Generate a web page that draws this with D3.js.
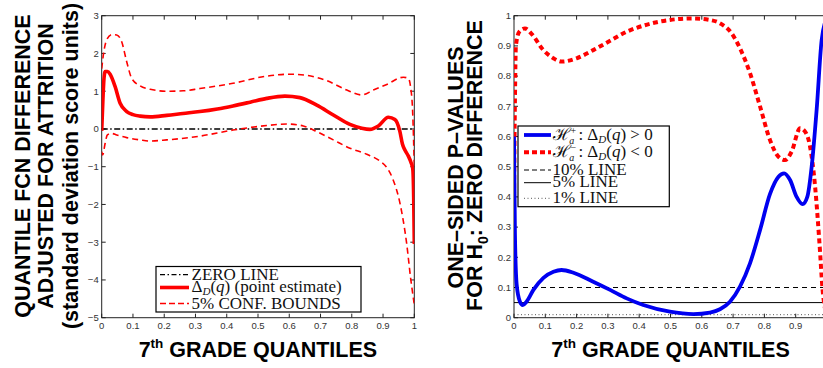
<!DOCTYPE html>
<html>
<head>
<meta charset="utf-8">
<title>Quantile difference and p-values</title>
<script src="https://cdn.jsdelivr.net/npm/d3@7"></script>
<style>
    body { margin: 0; background: #fff; }
    .tick-label { font-family: "Liberation Sans", Arial, sans-serif; font-size: 9.5px; fill: #333; }
    .axis-title { font-family: "Liberation Sans", Arial, sans-serif; font-weight: bold; font-size: 21.5px; fill: #000; }
    .legend-text { font-family: "Liberation Serif", "DejaVu Serif", serif; font-size: 17px; fill: #111; }
</style>
</head>
<body>
<div id="viz"></div>
<script>
// left panel: quantile function difference
var qPoint = [0, 0.004, 0.007, 0.011, 0.018, 0.027, 0.043, 0.059, 0.08, 0.1, 0.123, 0.155, 0.208, 0.26, 0.314, 0.37, 0.42, 0.475, 0.528, 0.586, 0.634, 0.688, 0.741, 0.794, 0.832, 0.858, 0.885, 0.917, 0.938, 0.954, 0.962, 0.97, 0.981, 0.99, 0.995, 0.998, 1.0];
var vPoint = [-0.05, 0.8, 1.3, 1.52, 1.52, 1.45, 1.12, 0.68, 0.46, 0.38, 0.34, 0.32, 0.36, 0.41, 0.46, 0.53, 0.61, 0.71, 0.81, 0.87, 0.83, 0.63, 0.37, 0.12, 0.02, -0.01, 0.08, 0.31, 0.25, -0.07, -0.4, -0.56, -0.72, -0.9, -1.05, -1.8, -3.05];

var qUpper = [0, 0.006, 0.016, 0.032, 0.048, 0.064, 0.08, 0.096, 0.123, 0.155, 0.208, 0.261, 0.314, 0.42, 0.528, 0.602, 0.656, 0.72, 0.784, 0.832, 0.869, 0.912, 0.965, 0.981, 0.988, 0.995, 1.0];
var vUpper = [1.6, 2.0, 2.36, 2.5, 2.49, 2.31, 1.78, 1.34, 1.14, 1.05, 1.0, 1.01, 1.07, 1.21, 1.4, 1.45, 1.42, 1.28, 1.03, 0.9, 1.03, 1.18, 1.37, 1.34, 1.12, 0.4, -1.0];

var qLower = [0, 0.003, 0.011, 0.018, 0.032, 0.048, 0.08, 0.123, 0.155, 0.208, 0.314, 0.42, 0.528, 0.592, 0.645, 0.688, 0.741, 0.794, 0.848, 0.89, 0.91, 0.93, 0.955, 0.975, 0.989, 1.0];
var vLower = [-0.6, -0.69, -0.38, -0.16, -0.12, -0.16, -0.23, -0.29, -0.32, -0.29, -0.19, -0.03, 0.09, 0.13, 0.08, -0.07, -0.29, -0.51, -0.67, -0.85, -1.0, -1.3, -2.0, -3.0, -4.0, -4.65];

// right panel: one-sided p-values
var qPlus = [0, 0.003, 0.0085, 0.019, 0.028, 0.04, 0.062, 0.094, 0.126, 0.152, 0.19, 0.253, 0.307, 0.36, 0.413, 0.498, 0.573, 0.626, 0.658, 0.69, 0.722, 0.754, 0.786, 0.818, 0.845, 0.863, 0.882, 0.903, 0.922, 0.937, 0.951, 0.967, 0.983, 1.0];
var pPlus = [0.6, 0.28, 0.11, 0.053, 0.042, 0.053, 0.092, 0.132, 0.152, 0.158, 0.149, 0.119, 0.092, 0.064, 0.042, 0.02, 0.012, 0.017, 0.028, 0.053, 0.103, 0.18, 0.29, 0.41, 0.467, 0.478, 0.456, 0.4, 0.376, 0.4, 0.5, 0.69, 0.92, 0.995];

var qMinus = [0, 0.003, 0.006, 0.017, 0.035, 0.056, 0.094, 0.126, 0.152, 0.2, 0.253, 0.307, 0.36, 0.413, 0.498, 0.573, 0.626, 0.663, 0.695, 0.722, 0.754, 0.786, 0.818, 0.845, 0.866, 0.887, 0.914, 0.93, 0.946, 0.962, 0.976, 0.986, 1.0];
var pMinus = [0.4, 0.72, 0.9, 0.947, 0.958, 0.94, 0.886, 0.859, 0.848, 0.859, 0.886, 0.917, 0.947, 0.967, 0.986, 0.991, 0.986, 0.972, 0.942, 0.892, 0.81, 0.7, 0.588, 0.533, 0.522, 0.55, 0.627, 0.616, 0.566, 0.434, 0.246, 0.092, 0.005];

var refLevels = [0.1, 0.05, 0.01];

var xTicks = [0, 0.1, 0.2, 0.3, 0.4, 0.5, 0.6, 0.7, 0.8, 0.9, 1];
var yTicksLeft = [-5, -4, -3, -2, -1, 0, 1, 2, 3];
var yTicksRight = [0, 0.1, 0.2, 0.3, 0.4, 0.5, 0.6, 0.7, 0.8, 0.9, 1];

var width = 823, height = 368;
var plotTop = 15.7, plotBottom = 317.7;

var svg = d3.select("#viz").append("svg")
    .attr("width", width)
    .attr("height", height);

function zip(xs, ys) {
    return xs.map(function(x, i) { return [x, ys[i]]; });
}

// MATLAB-like box axes with inward ticks on all four sides
function drawFrame(id, x, y, yTicks, yFmt) {
    var g = svg.append("g");
    var x0 = x.range()[0], x1 = x.range()[1];
    var y0 = y.range()[0], y1 = y.range()[1];

    svg.append("clipPath").attr("id", id)
        .append("rect")
        .attr("x", x0).attr("y", y1)
        .attr("width", x1 - x0).attr("height", y0 - y1);

    g.append("rect")
        .attr("x", x0).attr("y", y1)
        .attr("width", x1 - x0).attr("height", y0 - y1)
        .attr("fill", "none").attr("stroke", "#222").attr("stroke-width", 1);

    xTicks.forEach(function(t) {
        var px = x(t);
        g.append("line").attr("x1", px).attr("x2", px).attr("y1", y0).attr("y2", y0 - 4)
            .attr("stroke", "#222");
        g.append("line").attr("x1", px).attr("x2", px).attr("y1", y1).attr("y2", y1 + 4)
            .attr("stroke", "#222");
        // the right panel runs past the picture edge, so its last label is not seen
        if (px + 3 > width) return;
        g.append("text").attr("class", "tick-label")
            .attr("x", px).attr("y", y0 + 11.5)
            .attr("text-anchor", "middle")
            .text(String(t));
    });
    yTicks.forEach(function(t) {
        var py = y(t);
        g.append("line").attr("x1", x0).attr("x2", x0 + 4).attr("y1", py).attr("y2", py)
            .attr("stroke", "#222");
        g.append("line").attr("x1", x1).attr("x2", x1 - 4).attr("y1", py).attr("y2", py)
            .attr("stroke", "#222");
        g.append("text").attr("class", "tick-label")
            .attr("x", x0 - 3).attr("y", py + 3.3)
            .attr("text-anchor", "end")
            .text(yFmt(t));
    });
    return g;
}

function drawLine(id, x, y, pts, color, w, dash) {
    var line = d3.line()
        .x(function(d) { return x(d[0]); })
        .y(function(d) { return y(d[1]); })
        .curve(d3.curveMonotoneX);
    var p = svg.append("path")
        .datum(pts)
        .attr("clip-path", "url(#" + id + ")")
        .attr("d", line)
        .attr("fill", "none")
        .attr("stroke", color)
        .attr("stroke-width", w)
        .attr("stroke-linejoin", "round");
    if (dash) p.attr("stroke-dasharray", dash);
    return p;
}

/**********************
LEFT PANEL
**********************/
var xL = d3.scaleLinear().domain([0, 1]).range([101.7, 414.3]);
var yL = d3.scaleLinear().domain([-5, 3]).range([plotBottom, plotTop]);

drawFrame("clipL", xL, yL, yTicksLeft, function(t) { return t < 0 ? "\u2212" + Math.abs(t) : String(t); });

svg.append("line")
    .attr("x1", xL(0)).attr("x2", xL(1)).attr("y1", yL(0)).attr("y2", yL(0))
    .attr("stroke", "#000").attr("stroke-width", 1.4)
    .attr("stroke-dasharray", "6,2.5,1.5,2.5");
drawLine("clipL", xL, yL, zip(qUpper, vUpper), "#f00", 1.6, "6,4");
drawLine("clipL", xL, yL, zip(qLower, vLower), "#f00", 1.6, "6,4");
drawLine("clipL", xL, yL, zip(qPoint, vPoint), "#f00", 3.6);

// left legend
var legL = svg.append("g");
legL.append("rect").attr("x", 156).attr("y", 266.5).attr("width", 205).attr("height", 45.5)
    .attr("fill", "#fff").attr("stroke", "#000").attr("stroke-width", 1.2);
var legLItems = [
    { y: 274.7, color: "#000", w: 1.3, dash: "5,2.5,1.5,2.5" },
    { y: 287.5, color: "#f00", w: 3.6, dash: null },
    { y: 303.5, color: "#f00", w: 1.6, dash: "6,3" }
];
legLItems.forEach(function(d) {
    var l = legL.append("line").attr("x1", 160).attr("x2", 189).attr("y1", d.y).attr("y2", d.y)
        .attr("stroke", d.color).attr("stroke-width", d.w);
    if (d.dash) l.attr("stroke-dasharray", d.dash);
});
legL.append("text").attr("class", "legend-text").attr("x", 191.5).attr("y", 279.8).text("ZERO LINE");
var tD = legL.append("text").attr("class", "legend-text").attr("x", 191.5).attr("y", 292.2);
tD.append("tspan").text("\u0394");
tD.append("tspan").attr("font-style", "italic").attr("font-size", 11).attr("dy", 3).text("D");
tD.append("tspan").attr("dy", -3).text("(");
tD.append("tspan").attr("font-style", "italic").text("q");
tD.append("tspan").text(") (point estimate)");
legL.append("text").attr("class", "legend-text").attr("x", 191.5).attr("y", 308.5).text("5% CONF. BOUNDS");

// left titles
var xt = svg.append("text").attr("class", "axis-title")
    .attr("x", 257.9).attr("y", 356.5).attr("text-anchor", "middle");
xt.append("tspan").text("7");
xt.append("tspan").attr("font-size", 13.5).attr("dy", -9).text("th");
xt.append("tspan").attr("dy", 9).text(" GRADE QUANTILES");

var yTitlesL = [
    { x: 29.5, t: "QUANTILE FCN DIFFERENCE" },
    { x: 53, t: "ADJUSTED FOR ATTRITION" },
    { x: 78, t: "(standard deviation score units)" }
];
yTitlesL.forEach(function(d) {
    svg.append("text").attr("class", "axis-title")
        .attr("transform", "translate(" + d.x + ",166) rotate(-90)")
        .attr("text-anchor", "middle")
        .text(d.t);
});

/**********************
RIGHT PANEL
**********************/
var xR = d3.scaleLinear().domain([0, 1]).range([514, 827]);
var yR = d3.scaleLinear().domain([0, 1]).range([plotBottom, plotTop]);

drawFrame("clipR", xR, yR, yTicksRight, function(t) { return String(t); });

var refStyles = [
    { color: "#000", w: 1, dash: "5,4" },
    { color: "#000", w: 1, dash: null },
    { color: "#555", w: 1, dash: "1,2.5" }
];
refLevels.forEach(function(lv, i) {
    var l = svg.append("line")
        .attr("x1", xR(0)).attr("x2", xR(1)).attr("y1", yR(lv)).attr("y2", yR(lv))
        .attr("stroke", refStyles[i].color).attr("stroke-width", refStyles[i].w);
    if (refStyles[i].dash) l.attr("stroke-dasharray", refStyles[i].dash);
});
drawLine("clipR", xR, yR, zip(qMinus, pMinus), "#f00", 4, "5,3.5");
drawLine("clipR", xR, yR, zip(qPlus, pPlus), "#0000f0", 3.8);

// right legend
var legR = svg.append("g");
legR.append("rect").attr("x", 518).attr("y", 126).attr("width", 151.3).attr("height", 80.7)
    .attr("fill", "#fff").attr("stroke", "#000").attr("stroke-width", 1.2);
var legRItems = [
    { y: 135, color: "#0000f0", w: 3.8, dash: null },
    { y: 152.3, color: "#f00", w: 4, dash: "5,3" },
    { y: 170, color: "#000", w: 1, dash: "5,3" },
    { y: 182.7, color: "#000", w: 1, dash: null },
    { y: 198.3, color: "#555", w: 1, dash: "1,2.5" }
];
legRItems.forEach(function(d) {
    var l = legR.append("line").attr("x1", 524).attr("x2", 551).attr("y1", d.y).attr("y2", d.y)
        .attr("stroke", d.color).attr("stroke-width", d.w);
    if (d.dash) l.attr("stroke-dasharray", d.dash);
});
function hypText(y, sign, rel) {
    var t = legR.append("text").attr("class", "legend-text").attr("x", 552.5).attr("y", y);
    t.append("tspan").text("\u210B");
    t.append("tspan").attr("font-size", 10).attr("dy", -6).text(sign);
    t.append("tspan").attr("font-size", 10).attr("font-style", "italic").attr("dx", -7).attr("dy", 10).text("a");
    t.append("tspan").attr("dy", -4).text(" : \u0394");
    t.append("tspan").attr("font-style", "italic").attr("font-size", 11).attr("dy", 3).text("D");
    t.append("tspan").attr("dy", -3).text("(");
    t.append("tspan").attr("font-style", "italic").text("q");
    t.append("tspan").text(") " + rel + " 0");
}
hypText(140, "+", ">");
hypText(157.3, "\u2212", "<");
legR.append("text").attr("class", "legend-text").attr("x", 552.5).attr("y", 174.5).text("10% LINE");
legR.append("text").attr("class", "legend-text").attr("x", 552.5).attr("y", 187.2).text("5% LINE");
legR.append("text").attr("class", "legend-text").attr("x", 552.5).attr("y", 202.8).text("1% LINE");

// right titles
var xt2 = svg.append("text").attr("class", "axis-title")
    .attr("x", 670.5).attr("y", 356.5).attr("text-anchor", "middle");
xt2.append("tspan").text("7");
xt2.append("tspan").attr("font-size", 13.5).attr("dy", -9).text("th");
xt2.append("tspan").attr("dy", 9).text(" GRADE QUANTILES");

svg.append("text").attr("class", "axis-title")
    .attr("transform", "translate(463,167.5) rotate(-90)")
    .attr("text-anchor", "middle")
    .text("ONE\u2013SIDED P\u2013VALUES");
var yt2 = svg.append("text").attr("class", "axis-title")
    .attr("transform", "translate(482,165.5) rotate(-90)")
    .attr("text-anchor", "middle");
yt2.append("tspan").text("FOR H");
yt2.append("tspan").attr("font-size", 14).attr("dy", 6).text("0");
yt2.append("tspan").attr("dy", -6).text(": ZERO DIFFERENCE");
</script>
</body>
</html>
